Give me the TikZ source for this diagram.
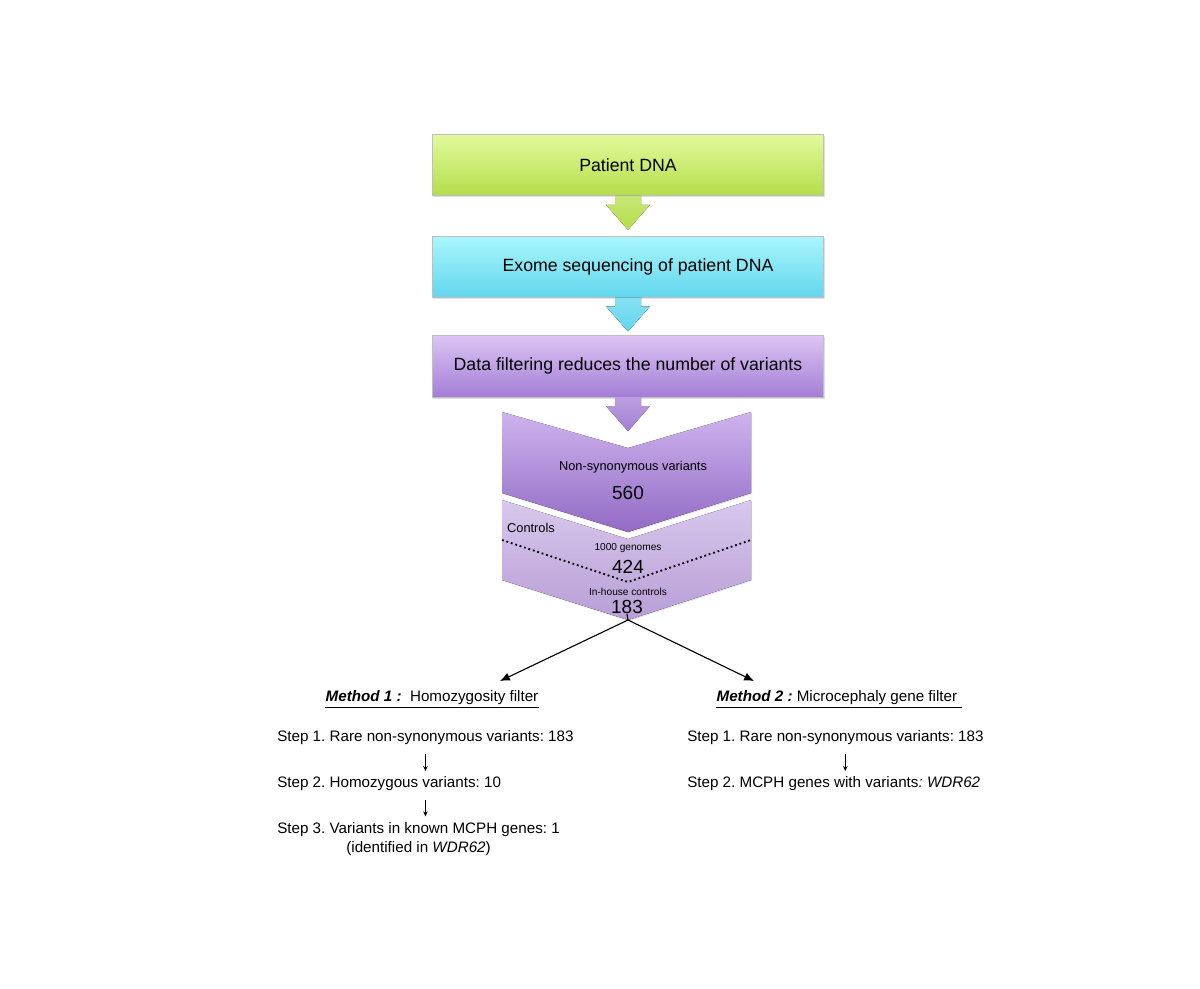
\documentclass[tikz,border=0pt]{standalone}
\usepackage{fontspec}
\setmainfont{Liberation Sans}
\usetikzlibrary{arrows.meta, positioning, calc, shadows}
\frenchspacing

\definecolor{greentop}{RGB}{226,250,156}
\definecolor{greenbot}{RGB}{180,222,74}
\definecolor{cyantop}{RGB}{170,246,252}
\definecolor{cyanbot}{RGB}{98,214,238}
\definecolor{purptop}{RGB}{220,196,244}
\definecolor{purpbot}{RGB}{164,126,214}
\definecolor{chevAtop}{RGB}{206,180,238}
\definecolor{chevAbot}{RGB}{146,106,196}
\definecolor{chevBtop}{RGB}{216,200,236}
\definecolor{chevBbot}{RGB}{184,158,214}

\tikzset{
  stagebox/.style={
    rectangle,
    minimum width=9.78cm, minimum height=1.53cm,
    text centered,
    draw=white!75!black, line width=0.3pt,
    drop shadow={shadow xshift=0.6pt, shadow yshift=-1.2pt, opacity=0.25},
    font=\fontsize{12.6}{15}\selectfont
  },
  greenbox/.style={stagebox, top color=greentop, bottom color=greenbot},
  cyanbox/.style={stagebox, top color=cyantop, bottom color=cyanbot},
  purplebox/.style={stagebox, top color=purptop, bottom color=purpbot},
  chevron/.style={drop shadow={shadow xshift=0.8pt, shadow yshift=-0.8pt, opacity=0.2}},
  smalltext/.style={font=\fontsize{9.1}{11}\selectfont, inner sep=0pt},
  tinytext/.style={font=\fontsize{7.2}{9}\selectfont, inner sep=0pt},
  numtext/.style={font=\fontsize{13.5}{16}\selectfont, inner sep=0pt},
  steptext/.style={font=\fontsize{10.8}{13.5}\selectfont, inner sep=0pt},
  arrow/.style={-{Latex[length=7pt, width=6pt]}, line width=0.8pt},
  steparrow/.style={-{Stealth[length=3.5pt, width=3.2pt]}, line width=0.6pt},
  underline/.style={line width=0.6pt}
}

\begin{document}
\begin{tikzpicture}[x=0.025cm, y=-0.025cm]

  \useasboundingbox (0,0) rectangle (1200,988);

  % Pipeline boxes
  \node[greenbox] (dna) at (628,165) {Patient DNA};
  \node[cyanbox, below=1cm of dna] (exome) {\hspace*{0.5cm}Exome sequencing of patient DNA};
  \node[purplebox, below=0.95cm of exome] (filter) {Data filtering reduces the number of variants};

  % Block arrows under each box
  \foreach \src/\col in {dna/greenbot, exome/cyanbot, filter/purpbot}
    \fill[top color=\col!75!white, bottom color=\col]
      ($(\src.south)+(-13,0)$) -- ++(0,9) -- ++(-9,0) -- ($(\src.south)+(0,34)$)
      -- ($(\src.south)+(22,9)$) -- ++(-9,0) -- ($(\src.south)+(13,0)$) -- cycle;

  % Chevrons
  \fill[chevron, top color=chevBtop, bottom color=chevBbot]
    (502,500) -- (628,539) -- (751,500) -- (751,580) -- (628,620) -- (502,580) -- cycle;
  \fill[chevron, top color=chevAtop, bottom color=chevAbot]
    (502,412) -- (628,448) -- (751,412) -- (751,493) -- (628,532) -- (502,493) -- cycle;
  \draw[dotted, line width=1.3pt] (502,540) -- (628,582) -- (751,540);

  % Variant counts
  \node[smalltext] (nonsyn) at (633,467) {Non-synonymous variants};
  \node[numtext] (n560) at (628,493) {560};
  \node[smalltext] (controls) at (531,528) {Controls};
  \node[tinytext] (genomes) at (628,548) {1000 genomes};
  \node[numtext] (n424) at (628,567) {424};
  \node[tinytext] (inhouse) at (628,592) {In-house controls};
  \node[numtext] (n183) at (627,607) {183};

  % Split into the two methods
  \coordinate (split) at (628,620);
  \coordinate (m1in) at (500,681);
  \coordinate (m2in) at (754,681);
  \draw[line width=0.8pt] (n183.south) -- (split);
  \draw[arrow] (split) -- (m1in);
  \draw[arrow] (split) -- (m2in);

  % Method 1
  \node[steptext] (m1) at (432,698) {\textbf{\textit{Method 1 :}}\ \ Homozygosity filter};
  \draw[underline] ([yshift=-1.5pt]m1.south west) -- ([yshift=-1.5pt]m1.south east);
  \node[steptext, anchor=west] (l1) at (277,738) {Step 1. Rare non-synonymous variants: 183};
  \node[steptext, anchor=west] (l2) at (277,784) {Step 2. Homozygous variants: 10};
  \node[steptext, anchor=north west, align=center] (l3) at (277,822)
    {Step 3. Variants in known MCPH genes: 1\\(identified in \textit{WDR62})};
  \draw[steparrow, shorten <=6pt, shorten >=4pt] (l1.south) -- (l1.south |- l2.north);
  \draw[steparrow, shorten <=6pt, shorten >=4pt] (l1.south |- l2.south) -- (l1.south |- l3.north);

  % Method 2
  \node[steptext] (m2) at (839,698) {\textbf{\textit{Method 2 :}} Microcephaly gene filter\hspace*{3pt}};
  \draw[underline] ([yshift=-1.5pt]m2.south west) -- ([yshift=-1.5pt]m2.south east);
  \node[steptext, anchor=west] (r1) at (687,738) {Step 1. Rare non-synonymous variants: 183};
  \node[steptext, anchor=west] (r2) at (687,784) {Step 2. MCPH genes with variants\textit{: WDR62}};
  \draw[steparrow, shorten <=6pt, shorten >=4pt] ([xshift=7pt]r1.south) -- ([xshift=7pt]r1.south |- r2.north);

\end{tikzpicture}
\end{document}
